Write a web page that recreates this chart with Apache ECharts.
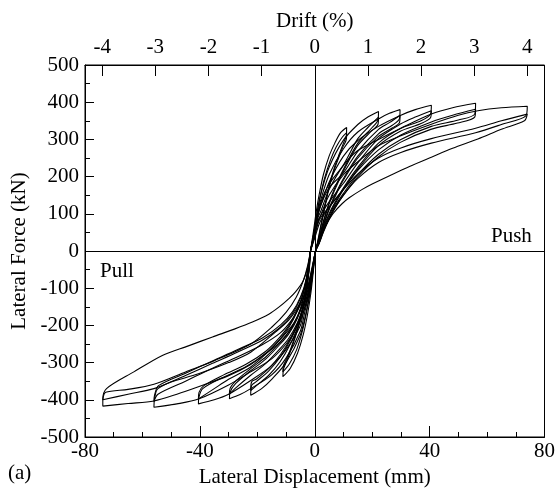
<!DOCTYPE html>
<html>
<head>
<meta charset="utf-8">
<script src="https://cdn.jsdelivr.net/npm/echarts@6/dist/echarts.min.js"></script>
<style>html,body{margin:0;padding:0;background:#fff}#chart{width:558px;height:504px}</style>
</head>
<body>
<div id="chart"></div>
<script>
// Tick labels
const dispTicks = [-80, -40, 0, 40, 80];
const forceTicks = [-500, -400, -300, -200, -100, 0, 100, 200, 300, 400, 500];
const driftTicks = [-4, -3, -2, -1, 0, 1, 2, 3, 4];
const mmPerDrift = 18.5; // 1% drift = 18.5 mm

// Hysteresis cycles [displacement mm, force kN], traced in loading order
const lvl1c1 = [[-1.5,0],[-0.5,50],[0.5,105],[1.5,150],[3,205],[5,255],[7,290],[9,318],[11.1,332],
  [11,310],[10,290],[8.5,260],[7,228],[5,175],[3.5,120],[2,65],[1,25],[0.3,0],
  [-0.5,-55],[-1.3,-110],[-2.5,-170],[-4,-225],[-6,-275],[-8.5,-315],[-11.1,-338],
  [-10.9,-318],[-10,-300],[-8.5,-270],[-6.8,-232],[-5,-185],[-3.5,-135],[-2.5,-85],[-1.8,-40],[-1.5,0]];
const lvl1c2 = [[-1.5,0],[-0.4,45],[0.7,100],[1.8,143],[3.4,195],[5.5,245],[7.5,280],[9.5,305],[11.1,318],
  [11,300],[9.8,280],[8.3,250],[6.8,218],[4.9,167],[3.4,113],[2,60],[1,22],[0.3,0],
  [-0.6,-52],[-1.5,-105],[-2.8,-162],[-4.3,-215],[-6.3,-265],[-8.8,-303],[-11.1,-325],
  [-10.9,-308],[-9.8,-290],[-8.3,-261],[-6.6,-223],[-4.9,-178],[-3.4,-128],[-2.5,-80],[-1.8,-37],[-1.5,0]];

const lvl2c1 = [[-1.5,0],[-0.4,45],[0.8,100],[2,150],[5,225],[10,298],[15,340],[18.5,360],[22.2,375],
  [22,352],[20,332],[15,290],[10,220],[7,170],[5,130],[3,80],[1.5,35],[0.3,0],
  [-0.6,-55],[-1.6,-110],[-3,-165],[-5,-225],[-10,-300],[-15,-345],[-18.5,-370],[-22.3,-388],
  [-22,-362],[-20.5,-352],[-16,-322],[-12,-285],[-8.5,-240],[-5.5,-190],[-3.5,-130],[-2.3,-70],[-1.5,0]];
const lvl2c2 = [[-1.5,0],[-0.3,40],[1,92],[2.3,135],[5,180],[10,232],[15,302],[18.5,332],[22.2,360],
  [22,340],[19.7,322],[14.8,282],[9.8,212],[6.9,163],[4.9,124],[3,76],[1.5,32],[0.3,0],
  [-0.7,-52],[-1.8,-105],[-3.5,-155],[-5,-188],[-8.5,-250],[-12,-297],[-16,-334],[-20,-360],[-22.3,-375],
  [-22,-352],[-20.3,-344],[-15.8,-314],[-11.8,-277],[-8.3,-233],[-5.4,-183],[-3.4,-125],[-2.3,-67],[-1.5,0]];

const lvl3c1 = [[-1.5,0],[-0.3,45],[1,100],[2,135],[5,205],[10,275],[15,320],[22.2,355],[26,370],[29.7,380],
  [29.5,356],[27,338],[22.2,315],[15,255],[10,195],[7,150],[5,115],[3,70],[1.5,30],[0.3,0],
  [-0.7,-55],[-1.8,-110],[-3.5,-165],[-5,-215],[-10,-288],[-15,-333],[-22.3,-370],[-26,-386],[-29.7,-397],
  [-29.5,-380],[-27.5,-356],[-22.3,-322],[-17,-290],[-12,-250],[-9,-222],[-6,-180],[-4,-130],[-2.5,-70],[-1.5,0]];
const lvl3c2 = [[-1.5,0],[-0.3,42],[1,95],[2.2,125],[5,170],[10,210],[15,268],[22.2,327],[26,345],[29.7,365],
  [29.5,345],[26.8,330],[22,307],[14.8,248],[9.8,188],[6.9,143],[4.9,109],[3,66],[1.5,28],[0.3,0],
  [-0.8,-52],[-2,-102],[-4,-152],[-6,-192],[-9,-234],[-12,-262],[-17,-302],[-22.3,-334],[-27.5,-368],[-29.7,-385],
  [-29.5,-370],[-27.3,-348],[-22.1,-315],[-16.8,-283],[-11.8,-243],[-8.8,-215],[-5.9,-174],[-3.9,-126],[-2.5,-67],[-1.5,0]];

const lvl4c1 = [[-1.5,0],[-0.2,45],[1.2,100],[2,120],[5,185],[10,255],[15,297],[22.2,335],[30,365],[35,380],[40.6,392],
  [40.3,368],[37,350],[30,330],[22.2,290],[15,225],[10,170],[7,130],[5,100],[3,62],[1.5,25],[0.3,0],
  [-0.8,-55],[-2,-110],[-4,-165],[-5,-200],[-10,-265],[-15,-308],[-22.3,-348],[-30,-385],[-35,-400],[-40.5,-411],
  [-40.3,-392],[-39,-370],[-32,-340],[-24,-311],[-17,-275],[-12.5,-240],[-9,-205],[-6,-160],[-4,-115],[-2.5,-60],[-1.5,0]];
const lvl4c2 = [[-1.5,0],[-0.2,40],[1.2,80],[3,108],[5,132],[10,182],[15,237],[22.2,302],[30,342],[35,360],[40.6,377],
  [40.3,358],[36.8,342],[29.8,322],[22,282],[14.8,218],[9.8,163],[6.9,124],[4.9,94],[3,58],[1.5,22],[0.3,0],
  [-0.9,-50],[-2.2,-100],[-4.5,-150],[-7,-190],[-10,-220],[-15,-262],[-22.3,-312],[-30,-345],[-35,-370],[-40.5,-398],
  [-40.3,-380],[-38.6,-362],[-31.7,-333],[-23.8,-304],[-16.8,-268],[-12.3,-233],[-8.8,-198],[-5.9,-154],[-3.9,-110],[-2.5,-57],[-1.5,0]];

const lvl5c1 = [[-1.5,0],[-0.2,42],[1.2,92],[2,105],[5,165],[10,230],[15,270],[22.2,300],[30,330],[40.6,368],[48,385],[56,397],
  [55.7,368],[50,352],[40.6,335],[30,300],[22.2,260],[15,205],[10,155],[7,120],[5,90],[3,55],[1.5,22],[0.3,0],
  [-0.9,-55],[-2.2,-110],[-4.5,-165],[-7,-215],[-10,-250],[-15,-290],[-22.3,-325],[-30,-360],[-40.5,-398],[-48,-411],[-56,-420],
  [-55.8,-398],[-54.6,-370],[-45,-335],[-35.6,-302],[-27,-272],[-18.3,-240],[-12,-205],[-7.9,-170],[-5,-128],[-3,-80],[-1.5,0]];
const lvl5c2 = [[-1.5,0],[-0.1,38],[1.3,78],[3,100],[5,118],[10,167],[15,217],[22.2,272],[30,312],[40.6,347],[48,365],[56,381],
  [55.7,360],[49.7,344],[40.4,327],[29.8,292],[22,252],[14.8,198],[9.8,148],[6.9,114],[4.9,85],[3,52],[1.5,20],[0.3,0],
  [-1,-50],[-2.5,-100],[-5,-145],[-8,-185],[-12,-220],[-18.3,-252],[-27,-285],[-35.6,-315],[-45,-350],[-54.6,-385],[-56,-405],
  [-55.8,-388],[-54.4,-362],[-44.8,-328],[-35.4,-295],[-26.8,-265],[-18.1,-233],[-11.8,-198],[-7.7,-163],[-4.9,-122],[-3,-76],[-1.5,0]];

const lvl6c1 = [[-1.5,0],[-0.1,40],[1.3,85],[2,95],[5,150],[10,205],[15,240],[22.2,283],[30,310],[40.6,341],[50,365],[56.8,377],[65,385],[74,389],
  [73.5,363],[65,340],[56,318],[40.6,290],[30,265],[22.2,238],[15,195],[10,150],[7,115],[5,85],[3,50],[1.5,20],[0.3,0],
  [-1,-55],[-2.4,-105],[-5,-160],[-8,-205],[-12,-245],[-17,-275],[-22.3,-305],[-30,-335],[-40.5,-365],[-48,-385],[-56,-403],[-65,-410],[-73.8,-417],
  [-73.8,-399],[-72.5,-370],[-63,-325],[-52.9,-280],[-44,-255],[-35.6,-231],[-28,-210],[-21.7,-191],[-16,-170],[-12.5,-151],[-9,-128],[-6.7,-110],[-4,-80],[-2.5,-45],[-1.5,0]];
const lvl6c2 = [[-1.5,0],[0,35],[1.5,72],[3,95],[5,118],[10,165],[15,207],[22.2,250],[30,277],[40.6,302],[56,330],[65,350],[74,368],
  [73,350],[65,327],[56.8,301],[48,276],[40.6,252],[33,227],[26.8,205],[20,180],[16.4,165],[12,143],[9.5,127],[6.5,102],[4.8,82],[2.5,50],[1.4,30],[0.3,0],
  [-1.1,-50],[-2.6,-98],[-5.5,-145],[-9,-185],[-14,-220],[-22.3,-272],[-30,-300],[-40.5,-330],[-50,-352],[-56,-370],[-65,-385],[-73.8,-400],
  [-72.8,-380],[-65,-372],[-56,-358],[-45,-325],[-35,-295],[-22.3,-250],[-15,-205],[-10,-165],[-6.5,-125],[-4,-80],[-2.5,-40],[-1.5,0]];

const cycles = [lvl1c1, lvl1c2, lvl2c1, lvl2c2, lvl3c1, lvl3c2, lvl4c1, lvl4c2, lvl5c1, lvl5c2, lvl6c1, lvl6c2];

const FONT = 'Liberation Serif';
const FS = 21;
const txt = {fontFamily: FONT, fontSize: FS, color: '#000'};
const gtxt = (t) => ({text: t, fill: '#000', font: FS + 'px "Liberation Serif"'});

const chart = echarts.init(document.getElementById('chart'), null, {renderer: 'canvas'});

const series = cycles.map((c, i) => ({
  type: 'line',
  data: c,
  xAxisIndex: 0,
  yAxisIndex: 0,
  smooth: 0.3,
  symbol: 'none',
  silent: true,
  animation: false,
  lineStyle: {color: '#000', width: 1.1},
  markLine: i === 0 ? {
    symbol: 'none', silent: true, animation: false,
    label: {show: false},
    lineStyle: {color: '#000', width: 1, type: 'solid'},
    data: [{yAxis: 0}, {xAxis: 0}]
  } : undefined
}));

chart.setOption({
  animation: false,
  backgroundColor: '#fff',
  grid: {left: 85, right: 11, top: 65, bottom: 67, show: true, borderColor: '#000', borderWidth: 1, backgroundColor: 'transparent'},
  xAxis: [{
    type: 'value', position: 'bottom', min: dispTicks[0], max: dispTicks[dispTicks.length - 1], interval: 40,
    axisLine: {show: true, onZero: false, lineStyle: {color: '#000', width: 1}},
    axisTick: {show: true, inside: true, length: 11, lineStyle: {color: '#000'}},
    minorTick: {show: true, splitNumber: 4, length: 5, lineStyle: {color: '#000'}},
    splitLine: {show: false},
    axisLabel: Object.assign({margin: 4}, txt),
    name: 'Lateral Displacement (mm)', nameLocation: 'middle', nameGap: 26,
    nameTextStyle: txt
  }, {
    type: 'value', position: 'top', min: dispTicks[0], max: dispTicks[dispTicks.length - 1],
    axisLine: {show: true, onZero: false, lineStyle: {color: '#000', width: 1}},
    axisTick: {show: true, inside: true, length: 11, lineStyle: {color: '#000'},
      customValues: driftTicks.map(d => d * mmPerDrift)},
    splitLine: {show: false},
    axisLabel: Object.assign({margin: 7, customValues: driftTicks.map(d => d * mmPerDrift),
      formatter: v => String(Math.round(v / mmPerDrift))}, txt),
    name: 'Drift (%)', nameLocation: 'middle', nameGap: 33,
    nameTextStyle: txt
  }],
  yAxis: [{
    type: 'value', min: forceTicks[0], max: forceTicks[forceTicks.length - 1], interval: 100,
    axisLine: {show: true, onZero: false, lineStyle: {color: '#000', width: 1}},
    axisTick: {show: true, inside: true, length: 9, lineStyle: {color: '#000'}},
    minorTick: {show: true, splitNumber: 2, length: 5, lineStyle: {color: '#000'}},
    splitLine: {show: false},
    axisLabel: Object.assign({margin: 6}, txt),
    name: 'Lateral Force (kN)', nameLocation: 'middle', nameGap: 50, nameRotate: 90,
    nameTextStyle: txt
  }],
  graphic: [
    {type: 'text', left: 491, top: 226, style: gtxt('Push')},
    {type: 'text', left: 100, top: 261, style: gtxt('Pull')},
    {type: 'text', left: 8, top: 463, style: gtxt('(a)')}
  ],
  series: series
});
</script>
</body>
</html>
